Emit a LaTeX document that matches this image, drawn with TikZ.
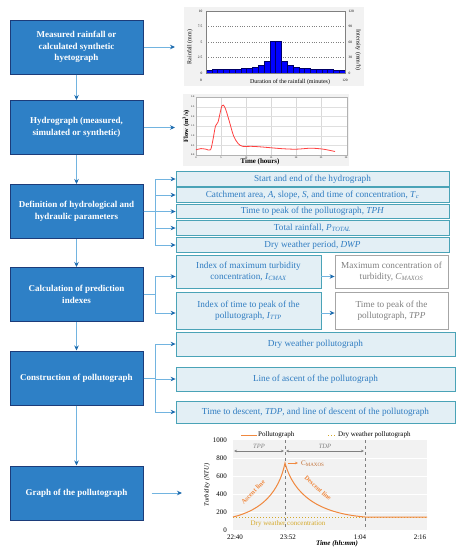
\documentclass[tikz,border=0pt]{standalone}
\usepackage{fontspec}
\setmainfont{Liberation Serif}
\usepackage{tikz}
\usetikzlibrary{arrows.meta}

\definecolor{boxblue}{HTML}{2E80C6}
\definecolor{boxedge}{HTML}{1C3C7A}
\definecolor{parfill}{HTML}{E3EFF5}
\definecolor{paredge}{HTML}{4AA3B7}
\definecolor{partext}{HTML}{2F7CC1}
\definecolor{linkline}{HTML}{72B4E0}
\definecolor{linkhead}{HTML}{1D6BAE}
\definecolor{polorange}{HTML}{F0883E}
\definecolor{dryyellow}{HTML}{D4A829}

\tikzset{
  mainbox/.style={draw=boxedge, line width=1pt, fill=boxblue, text=white,
    font=\fontsize{9}{11.5}\selectfont\bfseries, align=center,
    minimum width=133pt, minimum height=54pt, inner sep=0pt},
  parbox/.style={draw=paredge, line width=0.8pt, fill=parfill, text=partext,
    font=\fontsize{9.2}{11}\selectfont, align=center, inner sep=0pt},
  greybox/.style={draw=gray!70, line width=0.8pt, fill=white, text=gray,
    font=\fontsize{9.2}{11}\selectfont, align=center, inner sep=0pt},
  link/.style={draw=linkline, line width=0.9pt, -{Stealth[length=5pt,width=4.5pt,color=linkhead]}},
  tick/.style={font=\fontsize{3.5}{4}\selectfont, inner sep=0.5pt},
  poltick/.style={font=\fontsize{7}{8}\selectfont, inner sep=1pt},
}

\begin{document}
\begin{tikzpicture}[x=1pt, y=-1pt]
\useasboundingbox (0,0) rectangle (461,550);

% steps of the method
\node (hyeto) [mainbox] at (76.5,47) {Measured rainfall or\\calculated synthetic\\hyetograph};
\node (hydro) [mainbox] at (76.5,127.5) {Hydrograph (measured,\\simulated or synthetic)};
\node (params) [mainbox] at (76.5,211.5) {Definition of hydrological and\\hydraulic parameters};
\node (indexes) [mainbox] at (76.5,294.5) {Calculation of prediction\\indexes};
\node (constr) [mainbox] at (76.5,378) {Construction of pollutograph};
\node (graph) [mainbox] at (76.5,493) {Graph of the pollutograph};

\draw[link] (hyeto) -- (hydro);
\draw[link] (hydro) -- (params);
\draw[link] (params) -- (indexes);
\draw[link] (indexes) -- (constr);
\draw[link] (constr) -- (graph);

% parameters
\node (p1) [parbox, minimum width=273pt, minimum height=14.5pt] at (312.5,179) {Start and end of the hydrograph};
\node (p2) [parbox, minimum width=273pt, minimum height=14.5pt] at (312.5,195) {Catchment area, \textit{A}, slope, \textit{S}, and time of concentration, \textit{T}\textsubscript{\textit{c}}};
\node (p3) [parbox, minimum width=273pt, minimum height=14.5pt] at (312.5,211.5) {Time to peak of the pollutograph, \textit{TPH}};
\node (p4) [parbox, minimum width=273pt, minimum height=14.5pt] at (312.5,228) {Total rainfall, \textit{P}\textsubscript{\textit{TOTAL}}};
\node (p5) [parbox, minimum width=273pt, minimum height=14.5pt] at (312.5,245) {Dry weather period, \textit{DWP}};

\coordinate (parbus) at (155,211.5);
\foreach \p in {p1,p2,p3,p4,p5}
  \draw[link] (params.east) -- (parbus) |- (\p.west);

% indexes
\node (i1) [parbox, minimum width=145pt, minimum height=33pt] at (248.5,271.5) {Index of maximum turbidity\\concentration, \textit{I}\textsubscript{\textit{CMAX}}};
\node (i2) [parbox, minimum width=145pt, minimum height=37pt] at (248.5,311) {Index of time to peak of the\\pollutograph, \textit{I}\textsubscript{\textit{TTP}}};
\node (g1) [greybox, minimum width=113pt, minimum height=33pt] at (391.5,271.5) {Maximum concentration of\\turbidity, \textit{C}\textsubscript{\textit{MAXOS}}};
\node (g2) [greybox, minimum width=113pt, minimum height=37pt] at (391.5,311) {Time to peak of the\\pollutograph, \textit{TPP}};

\coordinate (indbus) at (155,294.5);
\draw[link] (indexes.east) -- (indbus) |- ([yshift=-5pt]i1.west);
\draw[link] (indexes.east) -- (indbus) |- ([yshift=-2pt]i2.west);
\draw[link] ([yshift=-5pt]i1.east) -- ([yshift=-5pt]g1.west);
\draw[link] ([yshift=-2pt]i2.east) -- ([yshift=-2pt]g2.west);

% construction
\node (c1) [parbox, minimum width=279pt, minimum height=24pt] at (315.5,344) {Dry weather pollutograph};
\node (c2) [parbox, minimum width=279pt, minimum height=24pt] at (315.5,379) {Line of ascent of the pollutograph};
\node (c3) [parbox, minimum width=279pt, minimum height=22pt] at (315.5,412) {Time to descent, \textit{TDP}, and line of descent of the pollutograph};

\coordinate (conbus) at (155,378);
\foreach \c in {c1,c2,c3}
  \draw[link] (constr.east) -- (conbus) |- (\c.west);

% arrows to the graphs
\coordinate (hyetoin) at (175,47);
\coordinate (hydroin) at (175,127.5);
\coordinate (polin) at (182,493);
\draw[link] (hyeto) -- (hyetoin);
\draw[link] (hydro) -- (hydroin);
\draw[link, shorten <=8pt] (graph) -- (polin);

% hyetograph
\fill[gray!10] (184,7) rectangle (364,86);
\fill[white] (206,11) rectangle (345,73);
\foreach \v in {2.5,5,7.5}
  \draw[gray, dotted, line width=0.4pt] (206,{73-6.2*\v}) -- (345,{73-6.2*\v});
\draw[gray, line width=0.4pt] (206,11) -- (345,11);
\foreach \h [count=\i from 0] in {0.45,0.55,0.55,0.6,0.65,0.7,0.75,0.85,1.0,1.25,1.9,5.2,5.2,1.9,1.25,1.0,0.85,0.75,0.7,0.6,0.6,0.55,0.5,0.45}
  \filldraw[fill=blue, draw=blue!40!black, line width=0.2pt] ({206+5.79*\i},73) rectangle ({206+5.79*(\i+1)},{73-6.2*\h});
\draw[gray, line width=0.4pt] (206,11) -- (206,73) -- (345,73) -- (345,11);
\foreach \v/\w in {0/0,2.5/30,5/60,7.5/90,10/120} {
  \node[tick, anchor=east] at (203,{73-6.2*\v}) {\v};
  \node[tick, anchor=west] at (348,{73-6.2*\v}) {\w};
}
\node[tick] at (201,80) {0};
\node[tick] at (345,80) {120};
\node[font=\fontsize{6}{7}\selectfont, rotate=90] at (190,47) {Rainfall (mm)};
\node[font=\fontsize{6}{7}\selectfont, rotate=-90] at (358,50) {Intensity (mm/h)};
\node[font=\fontsize{6}{7}\selectfont] at (290,82) {Duration of the rainfall (minutes)};

% hydrograph
\fill[gray!10] (183,94) rectangle (349,166);
\fill[white] (196,97) rectangle (347,155);
\foreach \t in {5,10,...,25}
  \draw[gray!30, line width=0.3pt] ({196+5*\t},97) -- ({196+5*\t},155);
\foreach \q in {0.5,1,...,2.5}
  \draw[gray!25, line width=0.3pt] (196,{155-19.33*\q}) -- (347,{155-19.33*\q});
\draw[gray!60, line width=0.4pt] (196,97) rectangle (347,155);
\foreach \q in {0.0,0.5,1.0,1.5,2.0,2.5,3.0}
  \node[tick, anchor=east, font=\fontsize{2.5}{3}\selectfont] at (195,{155-19.33*\q}) {\q};
\foreach \t in {0,5,...,30}
  \node[tick, font=\fontsize{2.5}{3}\selectfont] at ({196+5*\t},157.5) {\t};
\draw[red!75, line width=0.8pt] plot[smooth, tension=0.5] coordinates {
  (196,149.8) (201,148.6) (206,149.2) (210.5,149.8) (213,139.5) (215.5,126)
  (218,122.1) (222,105.7) (225,107.6) (229,120.2) (233.5,135.7) (238,143.4)
  (242.5,146.3) (251,146.3) (261,146.9) (281,148.6) (296,149.2) (311,148.2)
  (323.5,149.2) (335,151.5)};
\node[font=\fontsize{7}{8}\selectfont\bfseries] at (260,162) {Time (hours)};
\node[font=\fontsize{6.5}{7}\selectfont\bfseries, rotate=90] at (186,126) {Flow (m\textsuperscript{3}/s)};

% pollutograph
\fill[gray!10] (233,440) rectangle (427,530);
\foreach \v in {200,400,600,800}
  \draw[white, line width=0.4pt] (233,{530-0.09*\v}) -- (427,{530-0.09*\v});
\foreach \v in {0,200,...,1000}
  \node[poltick, anchor=east] at (228,{530-0.09*\v}) {\v};
\node[poltick] at (235,537) {22:40};
\node[poltick] at (288,537) {23:52};
\node[poltick] at (360,537) {1:04};
\node[poltick] at (420,537) {2:16};
\draw[gray, dashed, line width=0.5pt] (285,440) -- (285,530);
\draw[gray, dashed, line width=0.5pt] (365,440) -- (365,530);
\draw[gray, line width=0.4pt, {Stealth[length=3pt,width=2.5pt]}-{Stealth[length=3pt,width=2.5pt]}] (234,451) -- (284,451);
\draw[gray, line width=0.4pt, {Stealth[length=3pt,width=2.5pt]}-{Stealth[length=3pt,width=2.5pt]}] (286,451) -- (364,451);
\node[poltick, text=gray, font=\fontsize{6.5}{7}\selectfont\itshape] at (259,446) {TPP};
\node[poltick, text=gray, font=\fontsize{6.5}{7}\selectfont\itshape] at (325,446) {TDP};
\draw[dryyellow, dotted, line width=1pt] (233,517) -- (427,517);
\draw[polorange, line width=1pt] (233,517) .. controls (262,510) and (279,492) .. (285,463)
  .. controls (294,495) and (318,513) .. (365,517) -- (427,517);
\draw[polorange, line width=0.6pt, -{Stealth[length=3pt,width=2.5pt]}] (288,463) -- (298,463);
\node[poltick, text=polorange!80!black, anchor=west] at (300,464) {C\textsubscript{MAXOS}};
\node[text=polorange, font=\fontsize{6.5}{7}\selectfont\bfseries, rotate=45, inner sep=0pt] at (253,492) {Ascent line};
\node[text=polorange, font=\fontsize{6.5}{7}\selectfont\bfseries, rotate=-42, inner sep=0pt] at (318,488) {Descent line};
\node[poltick, text=dryyellow] at (288,523.5) {Dry weather concentration};
\draw[polorange, line width=1pt] (241,435) -- (257,435);
\node[poltick, anchor=west] at (257,435) {Pollutograph};
\draw[dryyellow, dotted, line width=1pt] (328,435) -- (337,435);
\node[poltick, anchor=west] at (337,435) {Dry weather pollutograph};
\node[poltick, font=\fontsize{6.5}{7}\selectfont\itshape, rotate=90] at (207,485) {Turbidity (NTU)};
\node[poltick, font=\fontsize{7}{8}\selectfont\bfseries\itshape] at (337,544) {Time (hh:mm)};
\end{tikzpicture}
\end{document}
